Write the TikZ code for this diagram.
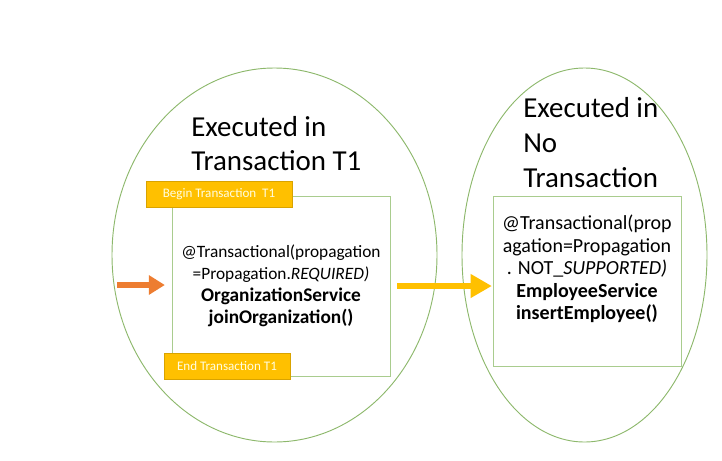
\documentclass[tikz,border=0pt]{standalone}
\usepackage{fontspec}
\setmainfont{Carlito}
\usepackage{xcolor}
\usetikzlibrary{shapes.geometric,arrows.meta,positioning}
\definecolor{ovalgreen}{HTML}{8DB86C}
\definecolor{boxgreen}{HTML}{A9CC8E}
\definecolor{bannergold}{HTML}{FFC000}
\definecolor{bannerline}{HTML}{D9A300}
\definecolor{callorange}{HTML}{ED7D31}

\begin{document}
\begin{tikzpicture}[x=0.75pt,y=0.75pt,yscale=-1,xscale=1,
    oval/.style={draw=ovalgreen, line width=0.7pt, ellipse, inner sep=0pt},
    methodbox/.style={draw=boxgreen, line width=0.7pt, inner sep=0pt},
    banner/.style={draw=bannerline, fill=bannergold, line width=0.6pt, inner sep=0pt,
        text=white!88!yellow, font=\fontsize{9.8}{11}\selectfont, minimum height=19.5pt},
    title/.style={anchor=west, align=left, inner sep=0pt, font=\fontsize{21.7}{25.5}\selectfont},
    callarrow/.style={line width=4.5pt, -{Triangle[length=12pt,width=14pt]}}
]
    \useasboundingbox (0,0) rectangle (722,461);

    % ovals
    \node [oval, minimum width=243.75pt, minimum height=280.5pt] (oval1) at (274.5,255) {};
    \node [oval, minimum width=183.75pt, minimum height=280.5pt] (oval2) at (584.5,255) {};

    % titles
    \node [title] (title1) at (191,144) {Executed in\\Transaction T1};
    \node [title, font=\fontsize{21.7}{26.25}\selectfont] (title2) at (523,143) {Executed in\\No\\Transaction};

    % method boxes
    \node [methodbox, minimum width=163.5pt, minimum height=135pt, align=center,
        font=\fontsize{13}{16.5}\selectfont] (box1) at (281,286)
        {@Transactional(propagation\\=Propagation.\textit{REQUIRED)}\\
         \fontsize{14.5}{17}\selectfont\textbf{OrganizationService}\\
         \fontsize{14.5}{17}\selectfont\textbf{joinOrganization()}};
    \node [methodbox, minimum width=141pt, minimum height=127.5pt] (box2) at (587,281) {};
    \node [anchor=north, align=center, inner sep=0pt,
        font=\fontsize{15}{16.8}\selectfont] (text2) at (587,215)
        {@Transactional(prop\\agation=Propagation\\. NOT\_\textit{SUPPORTED)}\\
         \textbf{EmployeeService}\\\textbf{insertEmployee()}};

    % transaction banners
    \node [banner, minimum width=109.5pt] (begin1) at (219,194) {Begin Transaction\ \ T1};
    \node [banner, minimum width=94.5pt] (end1) at (227,366) {End Transaction T1};

    % calls
    \coordinate (caller) at (117,285);
    \draw [callarrow, draw=callorange, fill=callorange, shorten >=5pt] (caller) -- (caller -| box1.west);
    \draw [callarrow, draw=bannergold, fill=bannergold, line width=5pt,
        -{Triangle[length=16pt,width=17pt]}, shorten <=5pt, shorten >=0.5pt]
        (box1.east) -- (box1.east -| box2.west);

\end{tikzpicture}
\end{document}
